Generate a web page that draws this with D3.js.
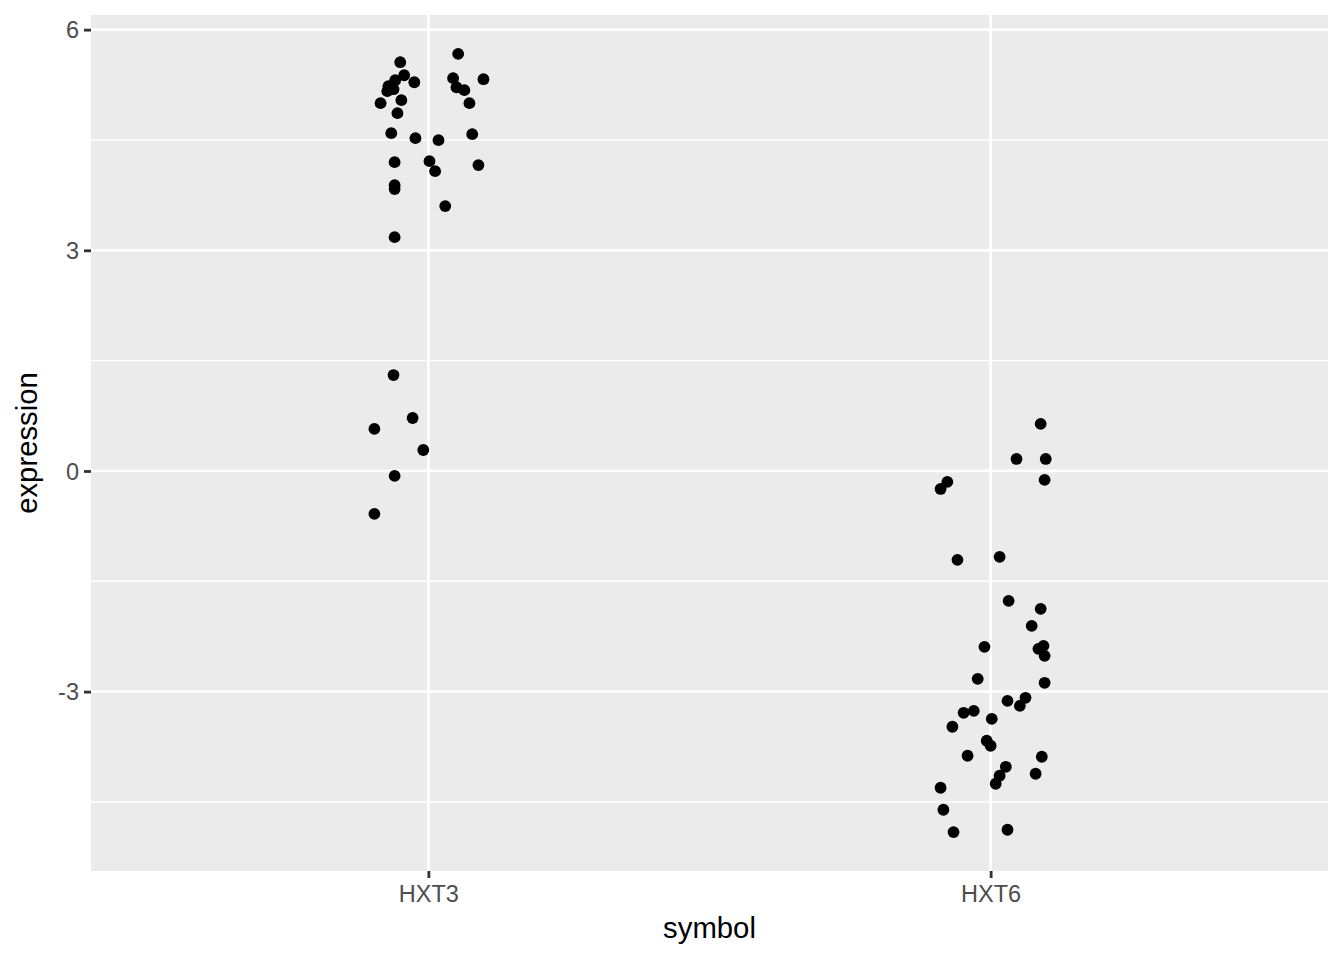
<!DOCTYPE html>
<html>
<head>
<meta charset="utf-8">
<script src="https://cdn.jsdelivr.net/npm/d3@7"></script>
<style>
  html, body { margin: 0; padding: 0; background: #ffffff; }
  svg { display: block; }
</style>
</head>
<body>
<script>
// ---- data ----
const categories = ["HXT3", "HXT6"];
const hxt3Values = [5.557, 5.67, 5.380, 5.312, 5.231, 5.190, 5.163, 5.285, 5.340, 5.326,
  5.217, 5.177, 5.000, 5.041, 5.000, 4.864, 4.592, 4.524, 4.497, 4.579,
  4.198, 4.212, 4.076, 4.158, 3.886, 3.832, 3.601, 3.179, 1.304, 0.720,
  0.571, 0.285, -0.068, -0.584];
const hxt3Jitter = [-0.050, 0.053, -0.043, -0.059, -0.071, -0.062, -0.073, -0.025, 0.044, 0.098,
  0.050, 0.064, -0.085, -0.048, 0.073, -0.055, -0.066, -0.023, 0.018, 0.078,
  -0.060, 0.002, 0.012, 0.089, -0.060, -0.060, 0.030, -0.060, -0.062, -0.028,
  -0.096, -0.009, -0.060, -0.096];
const hxt6Values = [0.639, 0.163, 0.163, -0.122, -0.149, -0.245, -1.209, -1.168, -1.766, -1.875,
  -2.106, -2.391, -2.378, -2.418, -2.514, -2.826, -2.880, -3.125, -3.084, -3.193,
  -3.288, -3.261, -3.370, -3.478, -3.668, -3.736, -3.872, -3.886, -4.022, -4.144,
  -4.117, -4.253, -4.307, -4.606, -4.91, -4.878];
const hxt6Jitter = [0.089, 0.046, 0.098, 0.096, -0.077, -0.089, -0.059, 0.016, 0.032, 0.089,
  0.073, -0.011, 0.094, 0.085, 0.096, -0.023, 0.096, 0.030, 0.062, 0.052,
  -0.048, -0.030, 0.002, -0.068, -0.007, 0.000, -0.041, 0.091, 0.027, 0.016,
  0.080, 0.009, -0.089, -0.084, -0.066, 0.030];
const yTicks = [-3, 0, 3, 6];
const yTickLabels = ["-3", "0", "3", "6"];
const yMinorTicks = [-4.5, -1.5, 1.5, 4.5];
const xTitle = "symbol";
const yTitle = "expression";

// ---- build points ----
const points = [];
hxt3Values.forEach((v, i) => points.push({cat: "HXT3", value: v, jitter: hxt3Jitter[i]}));
hxt6Values.forEach((v, i) => points.push({cat: "HXT6", value: v, jitter: hxt6Jitter[i]}));

// ---- layout ----
const W = 1344, H = 960;
const panel = {left: 91, right: 1328, top: 15, bottom: 871};

const svg = d3.select("body").append("svg")
  .attr("width", W).attr("height", H)
  .style("font-family", "'Liberation Sans', Arial, Helvetica, sans-serif");

const x = d3.scalePoint().domain(categories)
  .range([panel.left, panel.right]).padding(0.6);

const ext = d3.extent(points, d => d.value);
const pad = (ext[1] - ext[0]) * 0.05;
const y = d3.scaleLinear().domain([ext[0] - pad, ext[1] + pad])
  .range([panel.bottom, panel.top]);

// panel background
svg.append("rect")
  .attr("x", panel.left).attr("y", panel.top)
  .attr("width", panel.right - panel.left).attr("height", panel.bottom - panel.top)
  .attr("fill", "#EBEBEB");

const grid = svg.append("g");
grid.selectAll("line.minor").data(yMinorTicks).join("line")
  .attr("x1", panel.left).attr("x2", panel.right)
  .attr("y1", d => y(d)).attr("y2", d => y(d))
  .attr("stroke", "#ffffff").attr("stroke-width", 1.4);
grid.selectAll("line.majory").data(yTicks).join("line")
  .attr("x1", panel.left).attr("x2", panel.right)
  .attr("y1", d => y(d)).attr("y2", d => y(d))
  .attr("stroke", "#ffffff").attr("stroke-width", 2.8);
grid.selectAll("line.majorx").data(categories).join("line")
  .attr("y1", panel.top).attr("y2", panel.bottom)
  .attr("x1", d => x(d)).attr("x2", d => x(d))
  .attr("stroke", "#ffffff").attr("stroke-width", 2.8);

// points
svg.append("g").selectAll("circle").data(points).join("circle")
  .attr("cx", d => x(d.cat) + d.jitter * x.step())
  .attr("cy", d => y(d.value))
  .attr("r", 5.9)
  .attr("fill", "#000000");

// axes
const xAxis = svg.append("g")
  .attr("transform", `translate(0,${panel.bottom})`)
  .call(d3.axisBottom(x).tickSize(7).tickPadding(7));
const yAxis = svg.append("g")
  .attr("transform", `translate(${panel.left},0)`)
  .call(d3.axisLeft(y).tickValues(yTicks)
    .tickFormat((d, i) => yTickLabels[i]).tickSize(7).tickPadding(5));

[xAxis, yAxis].forEach(a => {
  a.select(".domain").remove();
  a.selectAll(".tick line").attr("stroke", "#333333").attr("stroke-width", 2.8);
  a.selectAll(".tick text")
    .attr("fill", "#4D4D4D")
    .style("font-size", "23.5px")
    .style("font-family", "'Liberation Sans', Arial, Helvetica, sans-serif");
});
yAxis.selectAll(".tick text").attr("dy", "0.35em");

// axis titles
svg.append("text")
  .attr("x", (panel.left + panel.right) / 2)
  .attr("y", 938)
  .attr("text-anchor", "middle")
  .style("font-size", "29.3px")
  .attr("fill", "#000000")
  .text(xTitle);

svg.append("text")
  .attr("transform", `translate(37,${(panel.top + panel.bottom) / 2}) rotate(-90)`)
  .attr("text-anchor", "middle")
  .style("font-size", "29.3px")
  .attr("fill", "#000000")
  .text(yTitle);
</script>
</body>
</html>
